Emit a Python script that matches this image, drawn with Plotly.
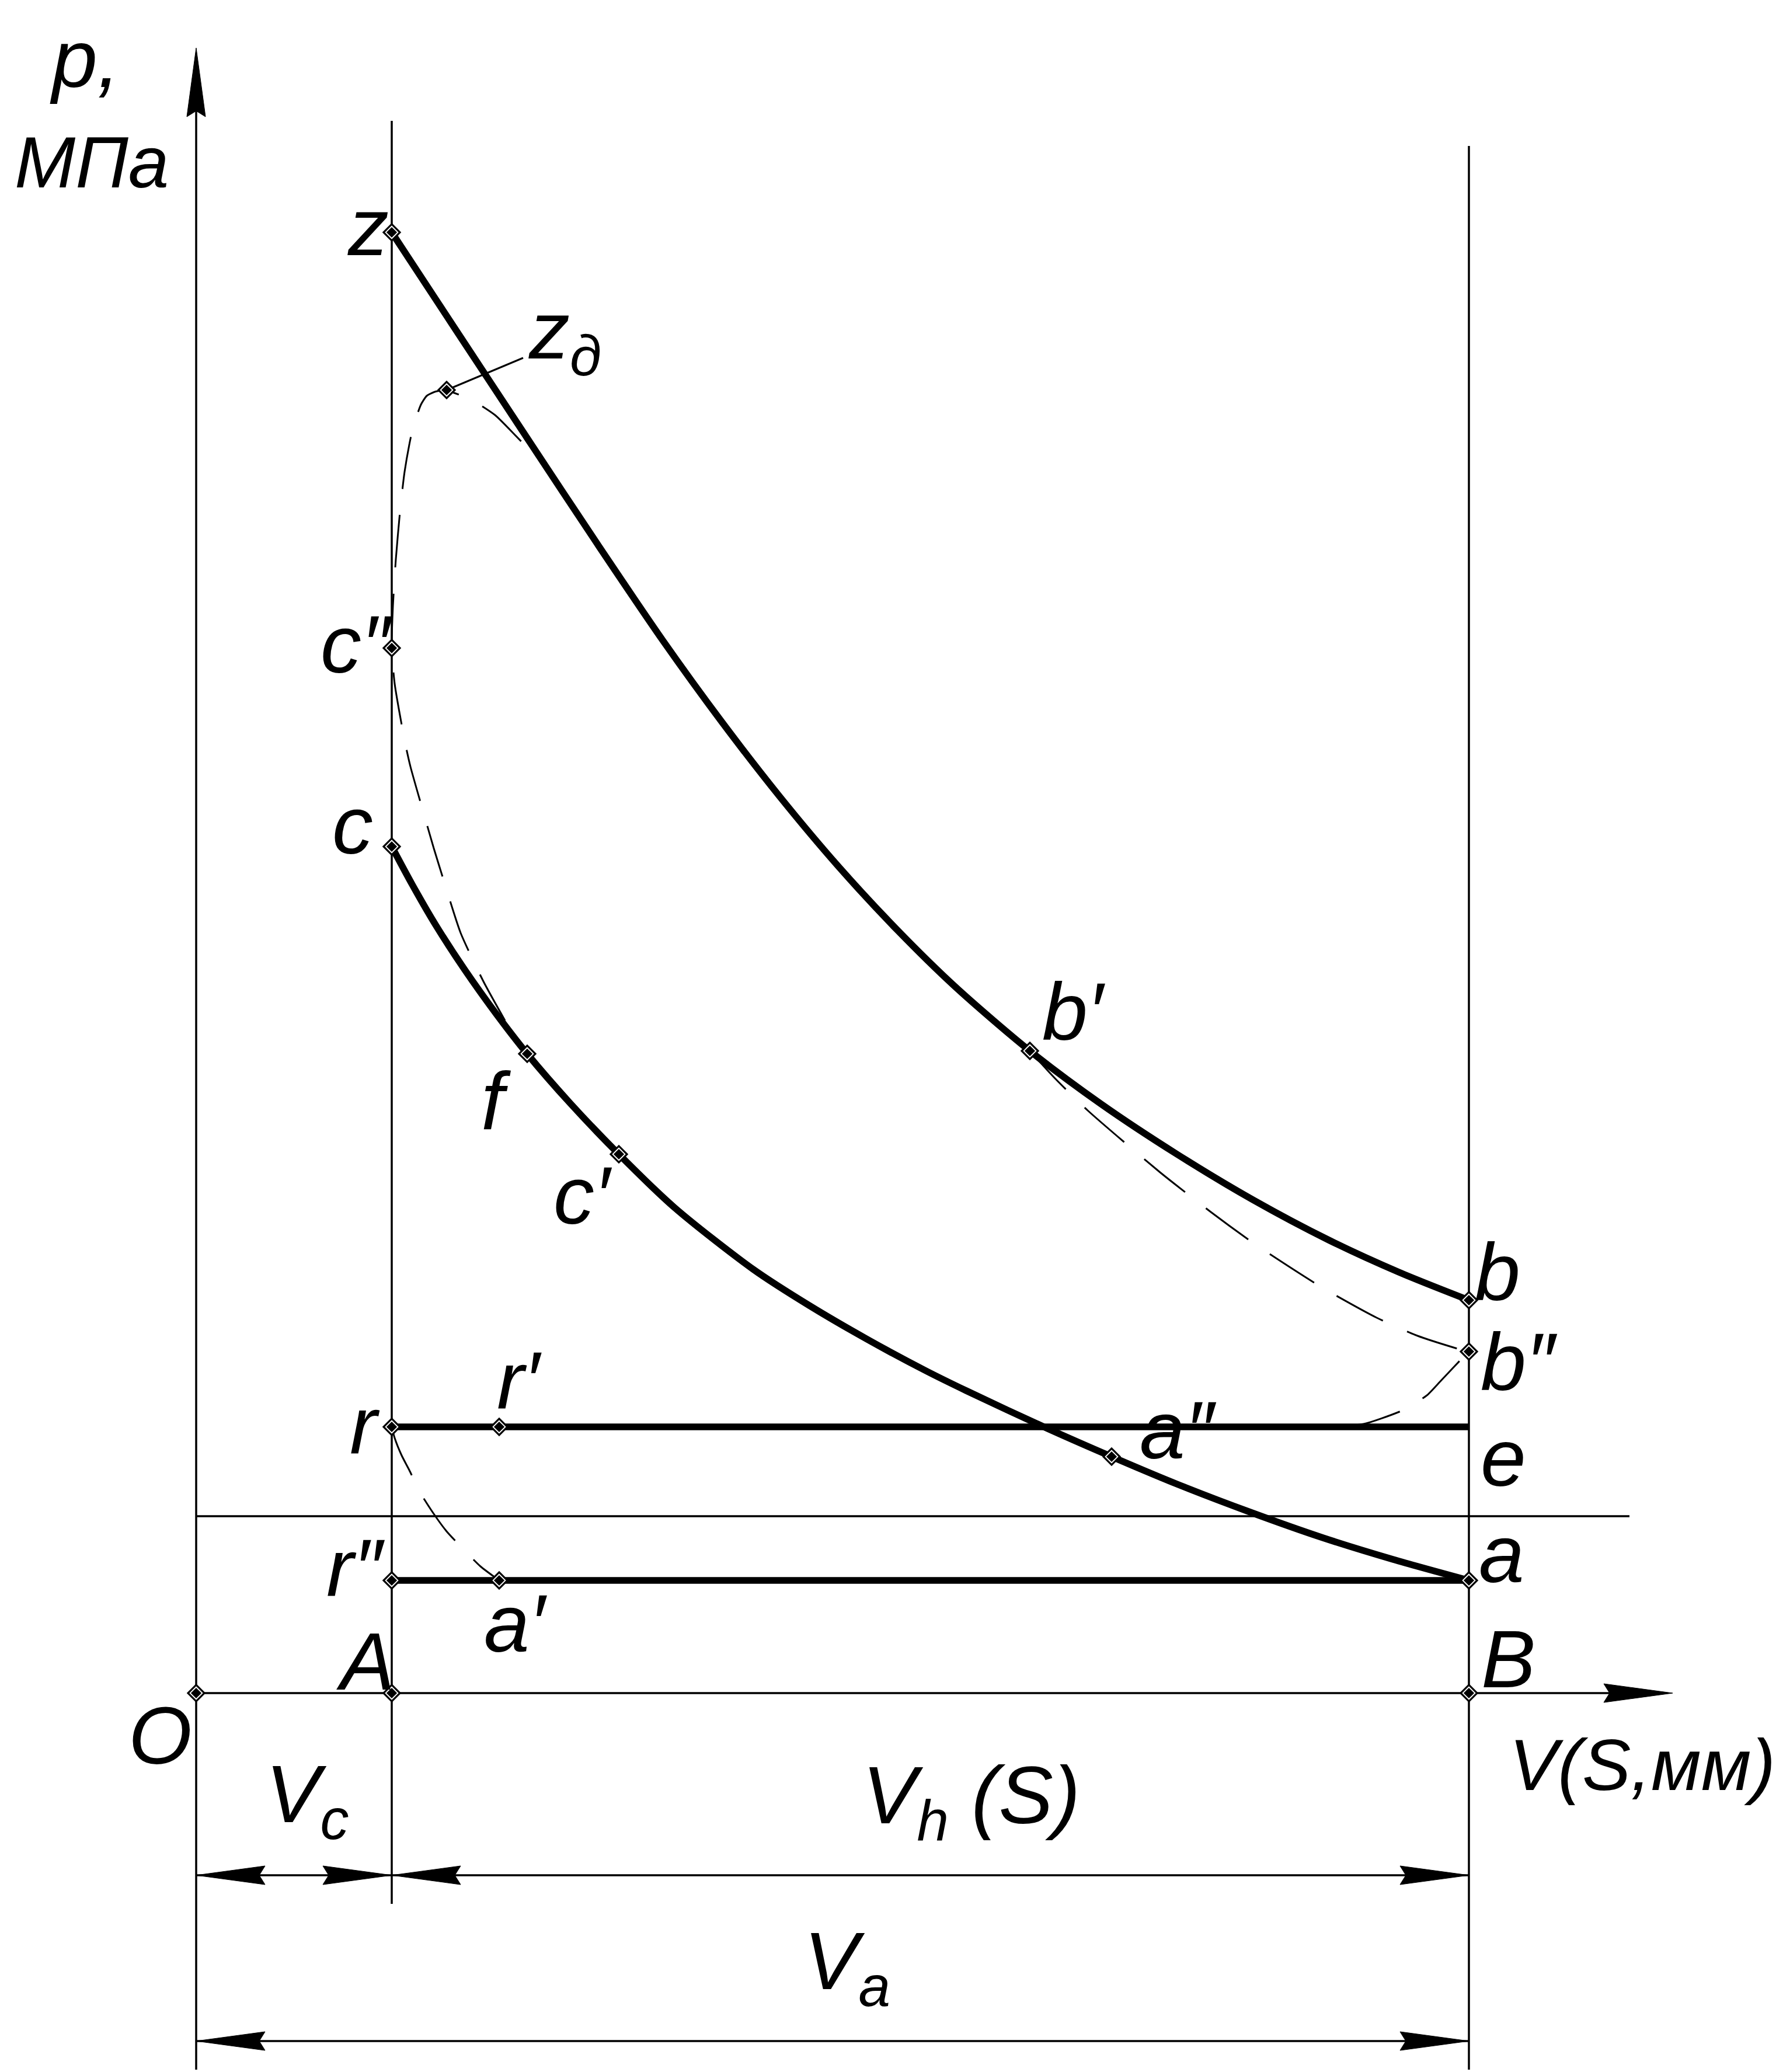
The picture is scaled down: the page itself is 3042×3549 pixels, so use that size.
import plotly.graph_objects as go

# ---------------- data (drawing units, origin at point O) ----------------
V_C = 33.5      # clearance volume Vc  (O -> A)
V_A = 218.0     # full volume Va       (O -> B)
P_A = 19.3      # intake pressure  (r'', a', a)
P_0 = 30.3      # ambient pressure line
P_R = 45.6      # exhaust pressure (r, r', e)

# compression line c -> a
comp_v = [33.5, 37, 41, 46, 51.5, 56.7, 64, 72.4, 82, 95.4, 105, 115.3, 125, 131.9,
          145.2, 156.8, 168, 180.8, 193, 205, 218]
comp_p = [145.0, 138.5, 131.6, 123.9, 116.2, 109.5, 101.1, 92.3, 83.1, 72.6, 66.4, 60.4, 55.2, 51.8,
          45.6, 40.5, 35.8, 30.9, 26.6, 22.9, 19.3]

# expansion line z -> b
exp_v = [33.5, 45, 57, 69, 80, 90, 100, 110, 120, 130, 142.8, 155, 168, 181, 194, 206, 218]
exp_p = [250.2, 232.7, 214.5, 196.4, 180.2, 166.4, 153.5, 141.6, 130.8, 121.0, 110.0,
         100.9, 92.3, 84.5, 77.6, 72.1, 67.3]

# rounded (actual) combustion: f -> c'' -> z_d -> expansion line
comb_v = [52.9, 49.2, 45.3, 42.4, 40.7, 39.4, 36.7, 35.7, 34.0, 33.5, 33.7, 34.2,
          34.9, 35.7, 37.0, 38.5, 39.5, 40.9, 42.9, 44.2, 47.2, 51.2, 54.7, 57.8]
comb_p = [115.2, 121.9, 130.2, 139.2, 144.7, 149.2, 158.7, 163.2, 172.9, 179.0, 186.2, 194.2,
          202.2, 209.2, 216.2, 220.7, 222.2, 222.9, 223.2, 222.7, 221.5, 218.9, 215.4, 212.2]

# rounded exhaust: b' -> b'' -> exhaust line
exh_v = [142.8, 147.0, 152.7, 165.1, 173.8, 181.2, 192.8, 202.2, 209.2, 216.7, 218.0,
         216.7, 213.2, 210.8, 206.8, 200.4, 196.2]
exh_p = [110.0, 105.4, 99.8, 89.2, 82.4, 77.0, 69.5, 64.3, 61.2, 58.8, 58.5,
         57.2, 53.5, 51.0, 48.5, 46.2, 45.6]

# rounded intake: r -> a'
int_v = [33.5, 34.0, 35.2, 36.5, 38.4, 40.7, 42.9, 46.0, 48.7, 51.9]
int_p = [45.6, 43.7, 40.7, 38.2, 34.3, 30.7, 27.7, 24.4, 21.7, 19.3]

# characteristic points
pt_names = ["z", "z_d", "c''", "c", "f", "c'", "b'", "b", "b''", "r", "r'", "a''",
            "r''", "a'", "a", "O", "A", "B"]
pt_v = [33.5, 42.9, 33.5, 33.5, 56.7, 72.4, 142.8, 218.0, 218.0, 33.5, 51.9, 156.8,
        33.5, 51.9, 218.0, 0.0, 33.5, 218.0]
pt_p = [250.2, 223.2, 179.0, 145.0, 109.5, 92.3, 110.0, 67.3, 58.5, 45.6, 45.6, 40.5,
        19.3, 19.3, 19.3, 0.0, 0.0, 0.0]

# ---------------- layout geometry ----------------
W, H = 3042, 3549
XR = [-32.8, 271.4]
YR = [-65.7, 289.2]
THIN = 3.5
THICK = 11.5
FAMILY = "Liberation Sans Narrow, Liberation Sans, Arial, sans-serif"


def font(size):
    return dict(family=FAMILY, size=size, color="black", style="italic")


fig = go.Figure()

solid = dict(color="black", width=THICK)
dashed = dict(color="black", width=3, dash="90px,45px")

# dashed rounded curves
for vv, pp in [(comb_v, comb_p), (exh_v, exh_p), (int_v, int_p)]:
    fig.add_trace(go.Scatter(x=vv, y=pp, mode="lines",
                             line=dict(**dashed, shape="spline", smoothing=0.6),
                             hoverinfo="skip"))

# main thick lines
fig.add_trace(go.Scatter(x=comp_v, y=comp_p, mode="lines",
                         line=dict(**solid, shape="spline", smoothing=0.8)))
fig.add_trace(go.Scatter(x=exp_v, y=exp_p, mode="lines",
                         line=dict(**solid, shape="spline", smoothing=0.8)))
fig.add_trace(go.Scatter(x=[V_C, V_A], y=[P_R, P_R], mode="lines", line=solid))
fig.add_trace(go.Scatter(x=[V_C, V_A], y=[P_A, P_A], mode="lines", line=solid))

# leader line for z_d
zd_i = pt_names.index("z_d")
fig.add_trace(go.Scatter(x=[pt_v[zd_i], pt_v[zd_i] + 13.1], y=[pt_p[zd_i], pt_p[zd_i] + 5.5],
                         mode="lines", line=dict(color="black", width=3)))

# markers (double diamond)
fig.add_trace(go.Scatter(x=pt_v, y=pt_p, mode="markers",
                         marker=dict(symbol="diamond", size=25, color="black")))
fig.add_trace(go.Scatter(x=pt_v, y=pt_p, mode="markers",
                         marker=dict(symbol="diamond", size=18, color="white")))
fig.add_trace(go.Scatter(x=pt_v, y=pt_p, mode="markers",
                         marker=dict(symbol="diamond", size=14, color="black")))

shapes = []


def ln(x0, y0, x1, y1, w=THIN):
    shapes.append(dict(type="line", x0=x0, y0=y0, x1=x1, y1=y1, xref="x", yref="y",
                       line=dict(color="black", width=w), layer="below"))


def arrow(tx, ty, direction, L=11.8, hw=1.6):
    # filled arrowhead with slight notch; direction: 'l','r','u'
    if direction == "u":
        path = (f"M {tx} {ty} L {tx - hw} {ty - L} L {tx} {ty - L + 1.0} "
                f"L {tx + hw} {ty - L} Z")
    elif direction == "r":
        path = (f"M {tx} {ty} L {tx - L} {ty - hw} L {tx - L + 1.0} {ty} "
                f"L {tx - L} {ty + hw} Z")
    else:
        path = (f"M {tx} {ty} L {tx + L} {ty - hw} L {tx + L - 1.0} {ty} "
                f"L {tx + L} {ty + hw} Z")
    shapes.append(dict(type="path", path=path, xref="x", yref="y",
                       fillcolor="black", line=dict(color="black", width=1)))


# axes
Y_TIP = 281.8
X_TIP = 252.9
DIM1 = -31.2
DIM2 = -59.6
ln(0, -64.5, 0, Y_TIP - 5)
arrow(0, Y_TIP, "u")
ln(0, 0, X_TIP - 5, 0)
arrow(X_TIP, 0, "r")
# vertical lines through A and B
ln(V_C, -36.1, V_C, 269.3)
ln(V_A, -64.5, V_A, 265.0)
# ambient pressure line
ln(0, P_0, 245.5, P_0)
# dimension lines
ln(0, DIM1, V_A, DIM1)
ln(0, DIM2, V_A, DIM2)
arrow(0, DIM1, "l")
arrow(V_C, DIM1, "r")
arrow(V_C, DIM1, "l")
arrow(V_A, DIM1, "r")
arrow(0, DIM2, "l")
arrow(V_A, DIM2, "r")

fig.update_layout(shapes=shapes)

S = 140
# labels: (text, x, y, xanchor, size)
labels = [
    ("p,", -19.1, 280.0, "center", S),
    ("МПа", -31.3, 262.3, "left", 125),
    ("z", 29.4, 251.2, "center", S),
    ("z<sub>д</sub>", 56.7, 232.5, "left", S),
    ("c″", 27.5, 179.7, "center", S),
    ("c", 26.8, 148.7, "center", S),
    ("f", 51.3, 101.5, "center", S),
    ("c′", 66.2, 85.3, "center", S),
    ("b′", 150.3, 116.8, "center", S),
    ("b", 222.9, 72.2, "center", S),
    ("b″", 226.6, 56.8, "center", S),
    ("e", 223.9, 40.4, "center", S),
    ("a", 223.6, 23.9, "center", S),
    ("a″", 168.2, 45.1, "center", S),
    ("r", 28.9, 45.9, "center", S),
    ("r′", 55.4, 53.6, "center", S),
    ("r″", 27.3, 21.5, "center", S),
    ("a′", 54.7, 12.0, "center", S),
    ("A", 29.0, 5.5, "center", S),
    ("B", 224.7, 5.9, "center", S),
    ("O", -6.2, -7.2, "center", S),
    ("V<sub>c</sub>", 11.7, -18.2, "left", S),
    ("V<sub>h</sub> (S)", 113.9, -18.4, "left", S),
    ("V<sub>a</sub>", 103.9, -46.8, "left", S),
    ("V(S,мм)", 270.7, -12.2, "right", 125),
]
for txt, x, y, xa, sz in labels:
    fig.add_annotation(x=x, y=y, text=txt, showarrow=False, xanchor=xa, yanchor="middle",
                       font=font(sz), xref="x", yref="y")

fig.update_layout(
    width=W, height=H, margin=dict(l=0, r=0, t=0, b=0, pad=0),
    paper_bgcolor="white", plot_bgcolor="white", showlegend=False,
    xaxis=dict(range=XR, visible=False, fixedrange=True),
    yaxis=dict(range=YR, visible=False, fixedrange=True),
)

fig.write_html("out.html")
